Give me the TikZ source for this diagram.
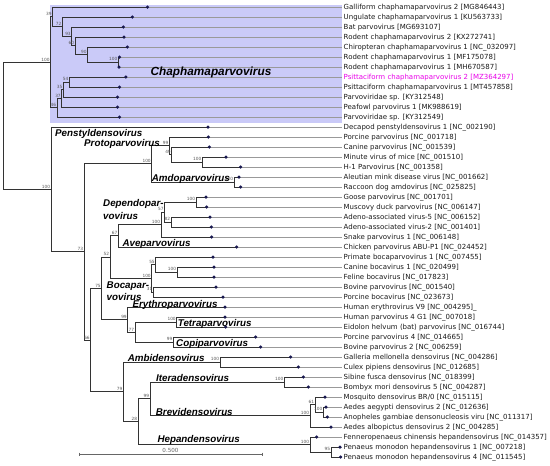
\documentclass[tikz,border=0pt]{standalone}
\usepackage{fontspec}
\setmainfont{DejaVu Sans}
\newfontfamily\genusfont{Liberation Sans}
\definecolor{lav}{RGB}{202,202,248}
\definecolor{navy}{RGB}{25,25,80}
\definecolor{mag}{RGB}{232,0,232}
\newcommand\leafnode[4]{%
  \coordinate (t#1) at (#2,#3);
  \node[leaf] (L#1) at (343.5,#3) {#4};
  \draw[ext] (t#1) -- ([xshift=-1.8pt]L#1.west);}
\begin{document}
\begin{tikzpicture}[x=1pt,y=-1pt,
  br/.style={draw=black!80, line width=0.95pt},
  ext/.style={draw=black!40, line width=0.6pt},
  leaf/.style={anchor=west, inner sep=0pt, font=\fontsize{7}{8}\selectfont, text=black!90, text height=5.1pt, text depth=0pt},
  bs/.style={anchor=south east, inner sep=0.5pt, font=\fontsize{4.3}{5}\selectfont, text=black!65},
  genus/.style={anchor=base west, inner sep=0pt, font=\genusfont\bfseries\itshape\fontsize{9.8}{11}\selectfont},
  dotc/.style={fill=navy, draw=none}]
\useasboundingbox (0,0) rectangle (550,466);
\fill[lav] (50,5) rectangle (341.7,122.7);
% leaves
\leafnode{1}{147.5}{7}{Galliform chaphamaparvovirus 2 [MG846443]}
\leafnode{2}{132.3}{17}{Ungulate chaphamaparvovirus 1 [KU563733]}
\leafnode{3}{123.3}{27}{Bat parvovirus [MG693107]}
\leafnode{4}{124}{37}{Rodent chaphamaparvovirus 2 [KX272741]}
\leafnode{5}{127.3}{47}{Chiropteran chaphamaparvovirus 1 [NC\_032097]}
\leafnode{6}{119.5}{57}{Rodent chaphamaparvovirus 1 [MF175078]}
\leafnode{7}{119}{67}{Rodent chaphamaparvovirus 1 [MH670587]}
\leafnode{8}{125.8}{77}{\color{mag}Psittaciform chaphamaparvovirus 2 [MZ364297]}
\leafnode{9}{119.5}{87}{Psittaciform chaphamaparvovirus 1 [MT457858]}
\leafnode{10}{117.5}{97}{Parvoviridae sp. [KY312548]}
\leafnode{11}{117.5}{107}{Peafowl parvovirus 1 [MK988619]}
\leafnode{12}{119.5}{117}{Parvoviridae sp. [KY312549]}
\leafnode{13}{208}{127}{Decapod penstyldensovirus 1 [NC\_002190]}
\leafnode{14}{208.3}{137}{Porcine parvovirus [NC\_001718]}
\leafnode{15}{209.3}{147}{Canine parvovirus [NC\_001539]}
\leafnode{16}{226}{157}{Minute virus of mice [NC\_001510]}
\leafnode{17}{240.7}{167}{H-1 Parvovirus [NC\_001358]}
\leafnode{18}{239}{177}{Aleutian mink disease virus [NC\_001662]}
\leafnode{19}{240.7}{187}{Raccoon dog amdovirus [NC\_025825]}
\leafnode{20}{206}{197}{Goose parvovirus [NC\_001701]}
\leafnode{21}{206.7}{207}{Muscovy duck parvovirus [NC\_006147]}
\leafnode{22}{210}{217}{Adeno-associated virus-5 [NC\_006152]}
\leafnode{23}{211.3}{227}{Adeno-associated virus-2 [NC\_001401]}
\leafnode{24}{211.7}{237}{Snake parvovirus 1 [NC\_006148]}
\leafnode{25}{236.7}{247}{Chicken parvovirus ABU-P1 [NC\_024452]}
\leafnode{26}{213}{257}{Primate bocaparvovirus 1 [NC\_007455]}
\leafnode{27}{214}{267}{Canine bocavirus 1 [NC\_020499]}
\leafnode{28}{214}{277}{Feline bocavirus [NC\_017823]}
\leafnode{29}{216}{287}{Bovine parvovirus [NC\_001540]}
\leafnode{30}{223}{297}{Porcine bocavirus [NC\_023673]}
\leafnode{31}{225}{307}{Human erythrovirus V9 [NC\_004295]\_}
\leafnode{32}{225}{317}{Human parvovirus 4 G1 [NC\_007018]}
\leafnode{33}{225.7}{327}{Eidolon helvum (bat) parvovirus [NC\_016744]}
\leafnode{34}{255.7}{337}{Porcine parvovirus 4 [NC\_014665]}
\leafnode{35}{260.7}{347}{Bovine parvovirus 2 [NC\_006259]}
\leafnode{36}{290.7}{357}{Galleria mellonella densovirus [NC\_004286]}
\leafnode{37}{298.3}{367}{Culex pipiens densovirus [NC\_012685]}
\leafnode{38}{303.3}{377}{Sibine fusca densovirus [NC\_018399]}
\leafnode{39}{308.3}{387}{Bombyx mori densovirus 5 [NC\_004287]}
\leafnode{40}{325}{397}{Mosquito densovirus BR/0 [NC\_015115]}
\leafnode{41}{326}{407}{Aedes aegypti densovirus 2 [NC\_012636]}
\leafnode{42}{327.3}{417}{Anopheles gambiae densonucleosis viru [NC\_011317]}
\leafnode{43}{331}{427}{Aedes albopictus densovirus 2 [NC\_004285]}
\leafnode{44}{316.7}{437}{Fenneropenaeus chinensis hepandensovirus [NC\_014357]}
\leafnode{45}{340}{447}{Penaeus monodon hepandensovirus 1 [NC\_007218]}
\leafnode{46}{340.7}{457}{Penaeus monodon hepandensovirus 4 [NC\_011545]}
% internal nodes
\coordinate (root) at (3.3,125.86);
\coordinate (CR) at (50.5,62.23);
\coordinate (c39) at (52.5,16.84);
\coordinate (c72) at (62.3,26.69);
\coordinate (c93) at (71.7,36.38);
\coordinate (c60) at (75,45.75);
\coordinate (c90) at (87.5,54.5);
\coordinate (c100a) at (118.3,62);
\coordinate (c46) at (57,107.63);
\coordinate (c37) at (61.7,98.25);
\coordinate (c35) at (63.3,89.5);
\coordinate (c54) at (69.3,82);
\coordinate (P) at (51,189.48);
\coordinate (nA) at (84,251.96);
\coordinate (pQ) at (151.7,163.88);
\coordinate (p99) at (169.3,145.75);
\coordinate (p49) at (171.7,154.5);
\coordinate (pMVM) at (202.3,162);
\coordinate (pAmdo) at (234,182);
\coordinate (nB) at (90.7,340.05);
\coordinate (nC) at (101.7,288.25);
\coordinate (dD) at (110,257);
\coordinate (dE) at (118.3,235.75);
\coordinate (dF) at (161,224.5);
\coordinate (dG) at (164.5,212);
\coordinate (dGM) at (196,202);
\coordinate (dAAV) at (171,222);
\coordinate (bBoca) at (151.7,278.25);
\coordinate (b55) at (155.7,264.5);
\coordinate (b100) at (177,272);
\coordinate (b31) at (153.3,292);
\coordinate (eEC) at (127.7,319.5);
\coordinate (eTC) at (135,332);
\coordinate (eTetra) at (176.7,322);
\coordinate (eCopi) at (173.3,342);
\coordinate (vDV) at (123.3,391.84);
\coordinate (vAmbi) at (220,362);
\coordinate (v28) at (138,421.69);
\coordinate (v99) at (150,398.88);
\coordinate (vItera) at (284.3,382);
\coordinate (vBrevi) at (310,415.75);
\coordinate (v61) at (315,404.5);
\coordinate (v100c) at (323.3,412);
\coordinate (vHepan) at (310,444.5);
\coordinate (v95) at (331,452);
% branches
\draw[br] (root) |- (CR) node[bs] (bCR) {100};
\draw[br] (root) |- (P) node[bs] (bP) {100};
\draw[br] (CR) |- (c39) node[bs] (b39) {39};
\draw[br] (CR) |- (c46) node[bs] (b46) {46};
\draw[br] (c39) |- (t1);
\draw[br] (c39) |- (c72) node[bs] (b72) {72};
\draw[br] (c72) |- (t2);
\draw[br] (c72) |- (c93) node[bs] (b93) {93};
\draw[br] (c93) |- (t3);
\draw[br] (c93) |- (c60) node[bs] (b60) {60};
\draw[br] (c60) |- (t4);
\draw[br] (c60) |- (c90) node[bs] (b90) {90};
\draw[br] (c90) |- (t5);
\draw[br] (c90) |- (c100a) node[bs] (b100a) {100};
\draw[br] (c100a) |- (t6);
\draw[br] (c100a) |- (t7);
\draw[br] (c46) |- (c37) node[bs] (b37) {37};
\draw[br] (c46) |- (t12);
\draw[br] (c37) |- (c35) node[bs] (b35) {35};
\draw[br] (c37) |- (t11);
\draw[br] (c35) |- (c54) node[bs] (b54) {54};
\draw[br] (c35) |- (t10);
\draw[br] (c54) |- (t8);
\draw[br] (c54) |- (t9);
\draw[br] (P) |- (t13);
\draw[br] (P) |- (nA) node[bs] (bA) {73};
\draw[br] (nA) |- (pQ) node[bs] (bQ) {100};
\draw[br] (nA) |- (nB) node[bs] (bB) {66};
\draw[br] (pQ) |- (p99) node[bs] (bp99) {99};
\draw[br] (pQ) |- (pAmdo) node[bs] (bAmdo) {100};
\draw[br] (p99) |- (t14);
\draw[br] (p99) |- (p49) node[bs] (bp49) {49};
\draw[br] (p49) |- (t15);
\draw[br] (p49) |- (pMVM) node[bs] (bMVM) {100};
\draw[br] (pMVM) |- (t16);
\draw[br] (pMVM) |- (t17);
\draw[br] (pAmdo) |- (t18);
\draw[br] (pAmdo) |- (t19);
\draw[br] (nB) |- (nC) node[bs] (bC) {75};
\draw[br] (nB) |- (vDV) node[bs] (bDV) {79};
\draw[br] (nC) |- (dD) node[bs] (bD) {52};
\draw[br] (nC) |- (eEC) node[bs] (bEC) {99};
\draw[br] (dD) |- (dE) node[bs] (bE) {67};
\draw[br] (dD) |- (bBoca) node[bs] (bBo) {100};
\draw[br] (dE) |- (dF) node[bs] (bF) {100};
\draw[br] (dE) |- (t25);
\draw[br] (dF) |- (dG) node[bs] (bG) {57};
\draw[br] (dF) |- (t24);
\draw[br] (dG) |- (dGM) node[bs] (bGM) {100};
\draw[br] (dG) |- (dAAV) node[bs] (bAAV) {82};
\draw[br] (dGM) |- (t20);
\draw[br] (dGM) |- (t21);
\draw[br] (dAAV) |- (t22);
\draw[br] (dAAV) |- (t23);
\draw[br] (bBoca) |- (b55) node[bs] (bb55) {55};
\draw[br] (bBoca) |- (b31) node[bs] (bb31) {31};
\draw[br] (b55) |- (t26);
\draw[br] (b55) |- (b100) node[bs] (bb100) {100};
\draw[br] (b100) |- (t27);
\draw[br] (b100) |- (t28);
\draw[br] (b31) |- (t29);
\draw[br] (b31) |- (t30);
\draw[br] (eEC) |- (t31);
\draw[br] (eEC) |- (eTC) node[bs] (bTC) {77};
\draw[br] (eTC) |- (eTetra) node[bs] (bTe) {100};
\draw[br] (eTC) |- (eCopi) node[bs] (bCo) {99};
\draw[br] (eTetra) |- (t32);
\draw[br] (eTetra) |- (t33);
\draw[br] (eCopi) |- (t34);
\draw[br] (eCopi) |- (t35);
\draw[br] (vDV) |- (vAmbi) node[bs] (bAm) {100};
\draw[br] (vDV) |- (v28) node[bs] (b28) {28};
\draw[br] (vAmbi) |- (t36);
\draw[br] (vAmbi) |- (t37);
\draw[br] (v28) |- (v99) node[bs] (bv99) {99};
\draw[br] (v28) |- (vHepan) node[bs] (bHe) {100};
\draw[br] (v99) |- (vItera) node[bs] (bIt) {100};
\draw[br] (v99) |- (vBrevi) node[bs] (bBr) {100};
\draw[br] (vItera) |- (t38);
\draw[br] (vItera) |- (t39);
\draw[br] (vBrevi) |- (v61) node[bs] (bv61) {61};
\draw[br] (vBrevi) |- (t43);
\draw[br] (v61) |- (t40);
\draw[br] (v61) |- (v100c) node[bs] (bv100c) {100};
\draw[br] (v100c) |- (t41);
\draw[br] (v100c) |- (t42);
\draw[br] (vHepan) |- (t44);
\draw[br] (vHepan) |- (v95) node[bs] (bv95) {95};
\draw[br] (v95) |- (t45);
\draw[br] (v95) |- (t46);
% tip dots
\foreach \i in {1,...,46} \fill[dotc] (t\i) circle (1.75pt);
% genus labels
\node[genus, font=\genusfont\bfseries\itshape\fontsize{11.8}{13}\selectfont] (gChap) at (150.5,75) {Chaphamaparvovirus};
\node[genus] (gPen) at (55,136.5) {Penstyldensovirus};
\node[genus] (gPro) at (84,146.5) {Protoparvovirus};
\node[genus] (gAmd) at (151.7,181) {Amdoparvovirus};
\node[genus] (gDep1) at (103,206) {Dependopar-};
\node[genus] (gDep2) at (103,219) {vovirus};
\node[genus] (gAve) at (122.3,246.5) {Aveparvovirus};
\node[genus] (gBoc1) at (106.5,288) {Bocapar-};
\node[genus] (gBoc2) at (106.5,300) {vovirus};
\node[genus] (gEry) at (132.3,307) {Erythroparvovirus};
\node[genus] (gTet) at (177.7,326.5) {Tetraparvovirus};
\node[genus] (gCop) at (176,346) {Copiparvovirus};
\node[genus] (gAmb) at (127.7,361.5) {Ambidensovirus};
\node[genus] (gIte) at (156,381.5) {Iteradensovirus};
\node[genus] (gBre) at (155.7,415) {Brevidensovirus};
\node[genus] (gHep) at (157.3,442.5) {Hepandensovirus};
% scale bar
\coordinate (sbL) at (79,454);
\coordinate (sbR) at (262,454);
\draw[black!60, line width=0.7pt] (sbL) -- (sbR);
\draw[black!60, line width=0.7pt] ([yshift=1.5pt]sbL) -- ([yshift=-1.5pt]sbL);
\draw[black!60, line width=0.7pt] ([yshift=1.5pt]sbR) -- ([yshift=-1.5pt]sbR);
\node[anchor=base, inner sep=0pt, font=\fontsize{5.6}{6}\selectfont, text=black!60] (sblab) at (170.5,452.5) {0.500};
\end{tikzpicture}
\end{document}
